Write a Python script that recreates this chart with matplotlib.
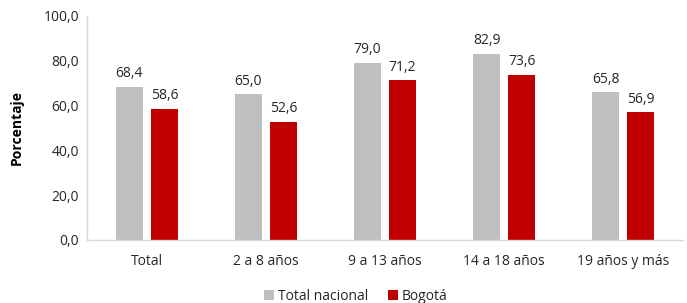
import numpy as np
import matplotlib.pyplot as plt

plt.rcParams['font.family'] = ['Open Sans', 'DejaVu Sans']

categorias = ["Total", "2 a 8 años", "9 a 13 años", "14 a 18 años", "19 años y más"]
total_nacional = [68.4, 65.0, 79.0, 82.9, 65.8]
bogota = [58.6, 52.6, 71.2, 73.6, 56.9]

gris = "#BFBFBF"
rojo = "#C00000"
texto = "#262626"

fig = plt.figure(figsize=(6.87, 3.03), dpi=100)
ax = fig.add_axes([0.127, 0.208, 0.867, 0.740])

x = np.arange(len(categorias))
ancho = 0.227
b1 = ax.bar(x - 0.147, total_nacional, ancho, color=gris, label="Total nacional")
b2 = ax.bar(x + 0.147, bogota, ancho, color=rojo, label="Bogotá")

# etiquetas de valor encima de cada barra
for barras in (b1, b2):
    for b in barras:
        h = b.get_height()
        ax.text(b.get_x() + b.get_width() / 2, h + 2.5, f"{h:.1f}".replace(".", ","),
                ha="center", va="bottom", fontsize=10, color=texto)

ax.set_xlim(-0.5, len(categorias) - 0.5)
ax.set_ylim(0, 100)
ax.set_yticks(range(0, 101, 20))
ax.set_yticklabels([f"{v},0" for v in range(0, 101, 20)])
ax.set_xticks(x)
ax.set_xticklabels(categorias)
ax.tick_params(length=0, labelsize=10, colors=texto)
ax.tick_params(axis="x", pad=10)
ax.tick_params(axis="y", pad=6)

for s in ["top", "right"]:
    ax.spines[s].set_visible(False)
for s in ["left", "bottom"]:
    ax.spines[s].set_color("#D9D9D9")
    ax.spines[s].set_linewidth(1)

ax.set_ylabel("Porcentaje", fontsize=10, fontweight="bold", color="black", labelpad=14)

fig.legend(handles=[b1, b2], loc="lower center", bbox_to_anchor=(0.518, -0.045), ncol=2,
           frameon=False, fontsize=10, handlelength=0.7, handleheight=0.7,
           handletextpad=0.3, columnspacing=1.4, labelcolor=texto)

fig.savefig("out.png", dpi=100)
